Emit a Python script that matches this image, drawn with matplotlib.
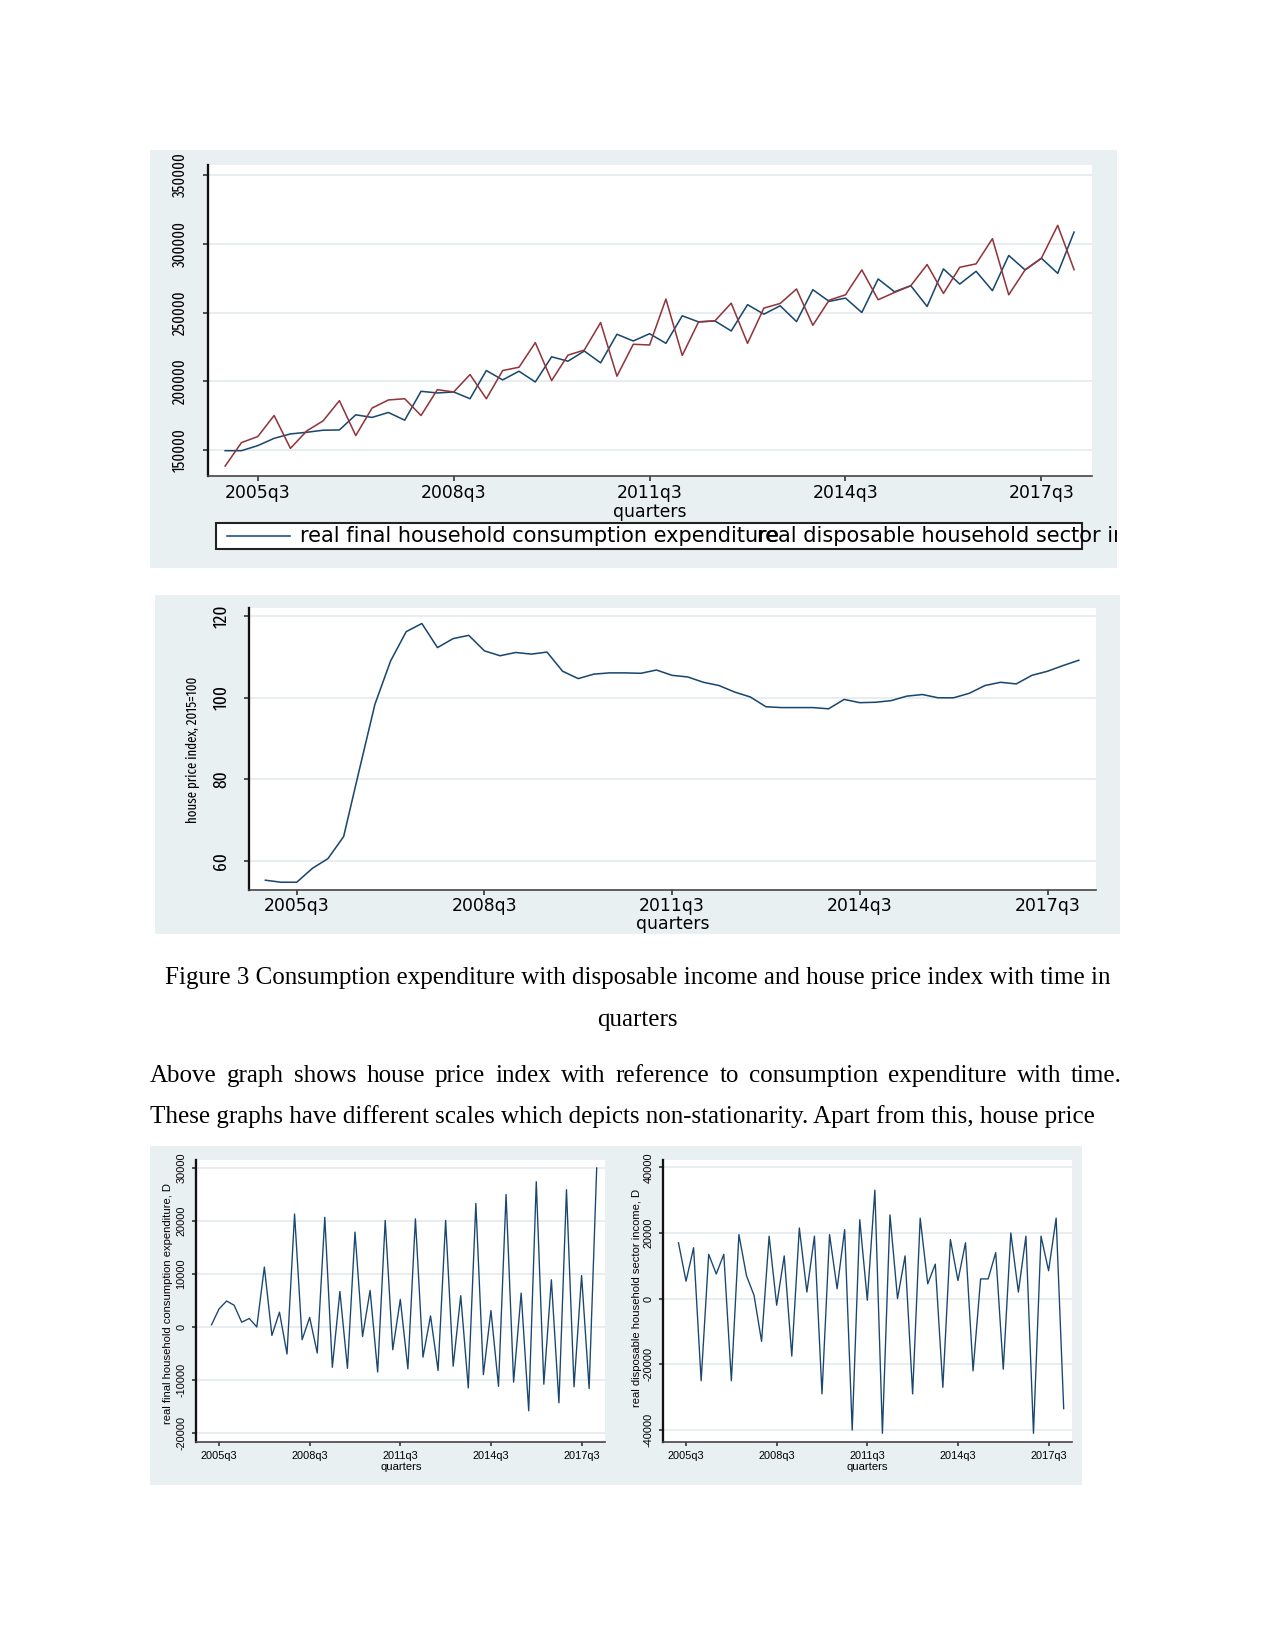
import os
import numpy as np
import pandas as pd
import matplotlib
matplotlib.use("Agg")
import matplotlib.pyplot as plt
from matplotlib import font_manager
from matplotlib.font_manager import FontProperties
from matplotlib.patches import Rectangle

# ---- data, quarters 2005q1 .. 2018q1 ----
quarters = pd.period_range("2005Q1", "2018Q1", freq="Q")
tick_labels = ["2005q3", "2008q3", "2011q3", "2014q3", "2017q3"]

consumption = [149500, 149500, 153200, 158500, 161700, 162900, 164400, 164600, 175600, 173700,
               177300, 171700, 192700, 191500, 192200, 187300, 207800, 201000, 207300, 199500,
               217800, 214600, 222000, 213400, 234200, 229300, 234600, 227600, 247600, 243200,
               243900, 236600, 255700, 248800, 254900, 243400, 266600, 258100, 260500, 250000,
               274400, 265100, 269500, 254400, 281700, 270700, 280000, 265900, 291500, 281000,
               289500, 278500, 308500]
income = [138300, 155400, 159800, 175100, 151200, 163900, 171200, 185900, 160500, 180500,
          186400, 187300, 175100, 193900, 192200, 204900, 187300, 207800, 210200, 228100,
          200500, 219000, 222700, 242700, 203700, 226900, 226400, 259800, 218800, 243200,
          243900, 256800, 227600, 253200, 256600, 267100, 240700, 259000, 262900, 281000,
          259300, 264600, 269500, 284900, 263900, 282900, 285400, 303700, 262900, 281000,
          289500, 313400, 281200]
house_price = [55.3, 54.8, 54.8, 58.2, 60.6, 66.0, 82.3, 98.4, 109.0, 116.2,
               118.2, 112.3, 114.5, 115.3, 111.5, 110.3, 111.1, 110.7, 111.2, 106.5,
               104.7, 105.8, 106.1, 106.1, 106.0, 106.8, 105.5, 105.1, 103.8, 103.0,
               101.4, 100.2, 97.8, 97.6, 97.6, 97.6, 97.3, 99.6, 98.8, 98.9,
               99.3, 100.4, 100.8, 100.0, 100.0, 101.1, 103.0, 103.8, 103.4, 105.5,
               106.5, 107.9, 109.2]
# first differences start in 2005q2
d_consumption = [400, 3400, 4900, 4100, 900, 1600, 0, 11300, -1600, 2800,
                 -5100, 21300, -2400, 1800, -4900, 20700, -7600, 6700, -7800, 17900,
                 -1800, 6900, -8500, 20100, -4300, 5200, -7900, 20400, -5700, 2100,
                 -8200, 20100, -7400, 5900, -11500, 23300, -9000, 3100, -11200, 25000,
                 -10400, 6400, -15800, 27400, -10800, 8900, -14300, 25900, -11300, 9700,
                 -11600, 30000]
d_income = [17000, 5300, 15500, -25000, 13500, 7500, 13500, -25000, 19500, 7000,
            1000, -13000, 19000, -2000, 13000, -17500, 21500, 2000, 19000, -29000,
            19500, 3000, 21000, -40000, 24000, -500, 33000, -41000, 25500, 0,
            13000, -29000, 24500, 4500, 10500, -27000, 18000, 5500, 17000, -22000,
            6000, 6000, 14000, -21500, 20000, 2000, 19000, -41000, 19000, 8500,
            24500, -33500]

legend_labels = ["real final household consumption expenditure",
                 "real disposable household sector income"]
caption = ["Figure 3 Consumption expenditure with disposable income and house price index with time in",
           "quarters"]
paragraph = ["Above graph shows house price index with reference to consumption expenditure with time.",
             "These graphs have different scales which depicts non-stationarity. Apart from this, house price"]

# ---- style ----
W, H, DPI = 1275, 1650, 150
BG = "#e9f0f2"
NAVY = "#1a476f"
MAROON = "#90353b"


def narrow_font():
    # the Stata y labels look squeezed; use a condensed face if one is installed
    best, best_rank = None, 99
    for f in font_manager.fontManager.ttflist:
        base = os.path.splitext(os.path.basename(f.fname))[0]
        if f.style != "normal" or f.weight not in (400, "normal", "regular"):
            continue
        if not any(k in base for k in ("Sans", "Roboto", "Liberation")):
            continue
        for rank, key in enumerate(("ExtraCondensed", "Narrow", "Condensed", "SemiCondensed")):
            if base.endswith(key) or base.endswith(key + "-Regular") or base.endswith(key + "Regular"):
                if rank < best_rank:
                    best, best_rank = f.fname, rank
    return FontProperties(fname=best) if best else FontProperties(family="Liberation Sans")


NARROW = narrow_font()

x = np.arange(len(quarters))
xd = x[1:]
qnames = list(quarters.strftime("%Yq%q"))
xticks = [qnames.index(t) for t in tick_labels]

fig = plt.figure(figsize=(W / DPI, H / DPI), dpi=DPI)
fig.patch.set_facecolor("white")
renderer = fig.canvas.get_renderer()


def box(l, t, r, b):
    # rectangle given in page pixels (top-left origin)
    return fig.add_axes([l / W, 1 - b / H, (r - l) / W, (b - t) / H])


def page_text(px, py, s, **kw):
    return fig.text(px / W, 1 - py / H, s, **kw)


def fit(texts, length_px):
    # scale font so the first text is length_px long along its baseline
    ext = texts[0].get_window_extent(renderer)
    size = texts[0].get_fontsize() * length_px / max(ext.width, ext.height)
    for t in texts:
        t.set_fontsize(size)


def panel(l, t, r, b):
    ax = box(l, t, r, b)
    ax.set_facecolor(BG)
    ax.set_xlim(l, r)
    ax.set_ylim(b, t)
    ax.set_xticks([])
    ax.set_yticks([])
    for s in ax.spines.values():
        s.set_visible(False)
    return ax


def stata_axes(l, t, r, b, ylim, yticks, xsize, xpad, ypad, tlen, small=False):
    ax = box(l, t, r, b)
    ax.set_facecolor("white")
    ax.set_xlim(-1.05, 53.1)
    ax.set_ylim(*ylim)
    ax.set_xticks(xticks, tick_labels)
    ax.set_yticks(yticks, [str(int(v)) for v in yticks])
    ax.tick_params(axis="x", length=tlen, width=0.8, pad=xpad, labelsize=xsize, color="#333")
    ax.tick_params(axis="y", length=tlen, width=0.8, pad=ypad, labelsize=xsize, color="#333")
    if small:
        plt.setp(ax.get_xticklabels() + ax.get_yticklabels(), family="Liberation Sans")
    else:
        plt.setp(ax.get_xticklabels(), family="DejaVu Sans")
        plt.setp(ax.get_yticklabels(), fontproperties=NARROW)
    plt.setp(ax.get_yticklabels(), rotation=90, va="center", ha="right")
    ax.grid(axis="y", color="#e4ebee", lw=0.8)
    ax.set_axisbelow(True)
    for side in ("top", "right"):
        ax.spines[side].set_visible(False)
    ax.spines["left"].set_linewidth(1.1)
    ax.spines["left"].set_color("#111")
    ax.spines["bottom"].set_linewidth(0.8)
    ax.spines["bottom"].set_color("#444")
    return ax


# ---- 1. levels: consumption vs income ----
p1 = panel(150, 150, 1117, 568)
ax1 = stata_axes(208, 165, 1092, 476, (131100, 357300), [150000, 200000, 250000, 300000, 350000],
                 8.3, 1.0, 7.0, 2.6)
fit(ax1.get_yticklabels(), 44)
ax1.plot(x, consumption, color=NAVY, lw=0.75)
ax1.plot(x, income, color=MAROON, lw=0.75)
page_text(650, 512, "quarters", ha="center", va="center", fontsize=8.3, family="DejaVu Sans")
p1.add_patch(Rectangle((216, 523), 866, 26, fc="white", ec="#222", lw=1.0))
p1.plot([227, 290], [536, 536], color=NAVY, lw=0.75)
p1.text(300, 536.5, legend_labels[0], va="center", fontsize=10, family="DejaVu Sans", clip_on=True)
p1.text(757, 536.5, legend_labels[1], va="center", fontsize=10, family="DejaVu Sans", clip_on=True)

# ---- 2. house price index ----
p2 = panel(155, 595, 1120, 934)
ax2 = stata_axes(249, 608, 1096, 890, (52.9, 122.0), [60, 80, 100, 120],
                 8.3, 0.8, 6.5, 2.6)
fit(ax2.get_yticklabels(), 18)
ax2.plot(x, house_price, color=NAVY, lw=0.75)
page_text(673, 924, "quarters", ha="center", va="center", fontsize=8.3, family="DejaVu Sans")
ylab = page_text(193, 750, "house price index, 2015=100", ha="center", va="center", rotation=90,
                 fontproperties=NARROW)
fit([ylab], 147)

# ---- 3. first differences ----
p3 = panel(150, 1146, 1082, 1485)
ax3 = stata_axes(196, 1160, 605, 1442, (-21700, 31500), [-20000, -10000, 0, 10000, 20000, 30000],
                 5.3, 2.2, 2.8, 1.9, small=True)
ax3.plot(xd, d_consumption, color=NAVY, lw=0.65)
page_text(401, 1467, "quarters", ha="center", va="center", fontsize=5.4, family="Liberation Sans")
page_text(168, 1303, "real final household consumption expenditure, D", ha="center", va="center",
          rotation=90, fontsize=5.4, family="Liberation Sans")

ax4 = stata_axes(663, 1160, 1072, 1442, (-43650, 42200), [-40000, -20000, 0, 20000, 40000],
                 5.3, 2.2, 2.8, 1.9, small=True)
ax4.plot(xd, d_income, color=NAVY, lw=0.65)
page_text(867, 1467, "quarters", ha="center", va="center", fontsize=5.4, family="Liberation Sans")
page_text(637, 1298, "real disposable household sector income, D", ha="center", va="center",
          rotation=90, fontsize=5.4, family="Liberation Sans")

# ---- document text ----
serif = dict(family="Liberation Serif", fontsize=12, color="black", va="baseline")
page_text(637.5, 984, caption[0], ha="center", **serif)
page_text(637.5, 1026, caption[1], ha="center", **serif)

words = paragraph[0].split()
texts = [page_text(0, 1082, w, ha="left", **serif) for w in words]
widths = [t.get_window_extent(renderer).width for t in texts]
gap = (1122 - 150 - sum(widths)) / (len(words) - 1)
pos = 150
for t, w in zip(texts, widths):
    t.set_x(pos / W)
    pos += w + gap
page_text(150, 1123, paragraph[1], ha="left", **serif)

fig.savefig("out.png", dpi=DPI, facecolor="white")
